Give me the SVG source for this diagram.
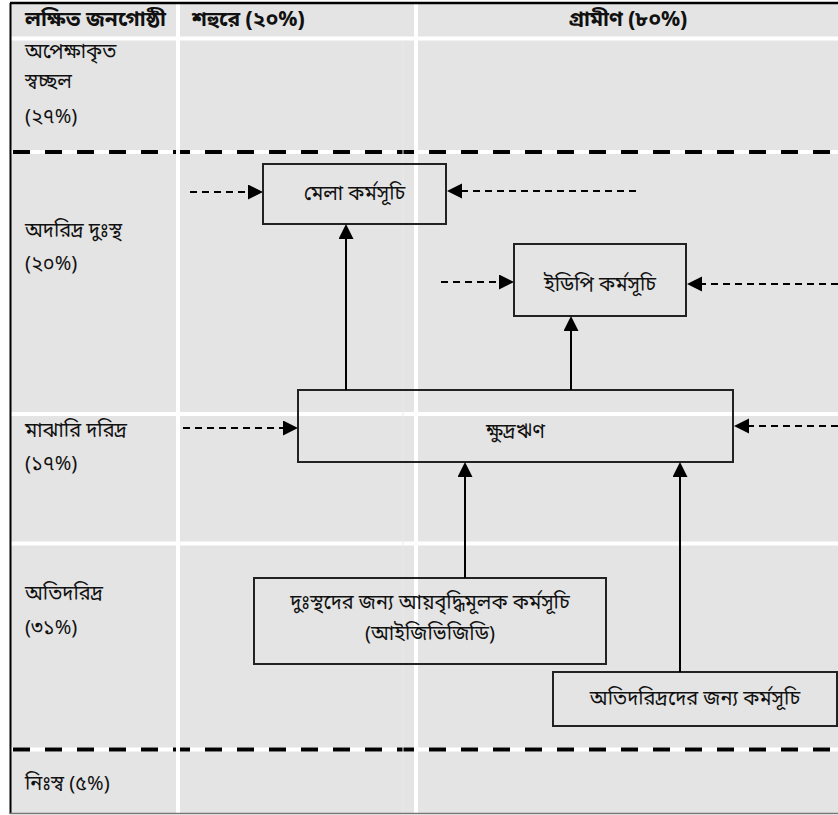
<svg xmlns="http://www.w3.org/2000/svg" width="838" height="815" viewBox="0 0 838 815">
<style>
text{font-family:"Noto Sans Bengali","Lohit Bengali","Noto Serif Bengali","Noto Sans","DejaVu Sans",sans-serif;font-size:20px;fill:#111}
.h{font-weight:bold;font-size:21px}
.box{fill:none;stroke:#222;stroke-width:2}
.sep{stroke:#fff;stroke-width:4}
.thick{stroke:#000;stroke-width:4;stroke-dasharray:17 15}
.solid{stroke:#000;stroke-width:2;fill:none}
.dash{stroke:#000;stroke-width:2;fill:none;stroke-dasharray:7 5}
</style>
<defs>
<marker id="ah" markerUnits="userSpaceOnUse" markerWidth="16" markerHeight="16" refX="0" refY="7.5" orient="auto">
<path d="M0,0 L15,7.5 L0,15 z" fill="#000"/>
</marker>
</defs>
<g id="background">
<rect x="10" y="3" width="828" height="810" fill="#e4e4e4"/>
<line class="sep" x1="10" y1="38.5" x2="838" y2="38.5"/>
<line class="sep" x1="10" y1="414" x2="838" y2="414"/>
<line class="sep" x1="10" y1="543.5" x2="838" y2="543.5"/>
<line x1="10" y1="152" x2="838" y2="152" stroke="#fff" stroke-width="4"/>
<line class="thick" x1="13" y1="152" x2="838" y2="152"/>
<line x1="10" y1="749.5" x2="838" y2="749.5" stroke="#fff" stroke-width="4"/>
<line class="thick" x1="13" y1="749.5" x2="838" y2="749.5"/>
<line class="sep" x1="178" y1="3" x2="178" y2="813"/>
<line class="sep" x1="416" y1="3" x2="416" y2="813"/>
<line x1="403" y1="40" x2="403" y2="813" stroke="#eaeaea" stroke-width="1"/>
<line x1="10" y1="3" x2="838" y2="3" stroke="#000" stroke-width="2.5"/>
<line x1="10.5" y1="3" x2="10.5" y2="814" stroke="#000" stroke-width="2"/>
<line x1="10" y1="813.5" x2="838" y2="813.5" stroke="#777" stroke-width="1.5"/>
</g>
<g id="labels">
<text class="h" x="25" y="26">লক্ষিত জনগোষ্ঠী</text>
<text class="h" x="192" y="26">শহুরে (২০%)</text>
<text class="h" x="628" y="26" text-anchor="middle">গ্রামীণ (৮০%)</text>
<text x="25" y="58">অপেক্ষাকৃত</text>
<text x="25" y="88">স্বচ্ছল</text>
<text x="25" y="123">(২৭%)</text>
<text x="25" y="237">অদরিদ্র দুঃস্থ</text>
<text x="25" y="270">(২০%)</text>
<text x="25" y="437">মাঝারি দরিদ্র</text>
<text x="25" y="470">(১৭%)</text>
<text x="25" y="600">অতিদরিদ্র</text>
<text x="25" y="634">(৩১%)</text>
<text x="25" y="790">নিঃস্ব (৫%)</text>
</g>
<g id="node-mela">
<rect class="box" x="263" y="164" width="183" height="60"/>
<text x="354.5" y="200" text-anchor="middle">মেলা কর্মসূচি</text>
</g>
<g id="node-edp">
<rect class="box" x="514" y="244" width="172" height="72"/>
<text x="600" y="291" text-anchor="middle">ইডিপি কর্মসূচি</text>
</g>
<g id="node-microcredit">
<rect class="box" x="298" y="390" width="435" height="72"/>
<text x="515.5" y="438" text-anchor="middle">ক্ষুদ্রঋণ</text>
</g>
<g id="node-igvgd">
<rect class="box" x="254" y="578" width="352" height="86"/>
<text x="430" y="609" text-anchor="middle">দুঃস্থদের জন্য আয়বৃদ্ধিমূলক কর্মসূচি</text>
<text x="430" y="640" text-anchor="middle">(আইজিভিজিডি)</text>
</g>
<g id="node-extreme">
<rect class="box" x="553" y="672" width="284" height="54"/>
<text x="695" y="705" text-anchor="middle">অতিদরিদ্রদের জন্য কর্মসূচি</text>
</g>
<g id="connectors">
<line class="solid" x1="346" y1="390" x2="346" y2="239" marker-end="url(#ah)"/>
<line class="solid" x1="571" y1="390" x2="571" y2="331" marker-end="url(#ah)"/>
<line class="solid" x1="465" y1="578" x2="465" y2="477" marker-end="url(#ah)"/>
<line class="solid" x1="680" y1="672" x2="680" y2="477" marker-end="url(#ah)"/>
<line class="dash" x1="190" y1="192" x2="248" y2="192" marker-end="url(#ah)"/>
<line class="dash" x1="636" y1="191" x2="462" y2="191" marker-end="url(#ah)"/>
<line class="dash" x1="441" y1="282" x2="499" y2="282" marker-end="url(#ah)"/>
<line class="dash" x1="838" y1="284" x2="702" y2="284" marker-end="url(#ah)"/>
<line class="dash" x1="183" y1="428" x2="283" y2="428" marker-end="url(#ah)"/>
<line class="dash" x1="838" y1="426" x2="749" y2="426" marker-end="url(#ah)"/>
</g>
</svg>
